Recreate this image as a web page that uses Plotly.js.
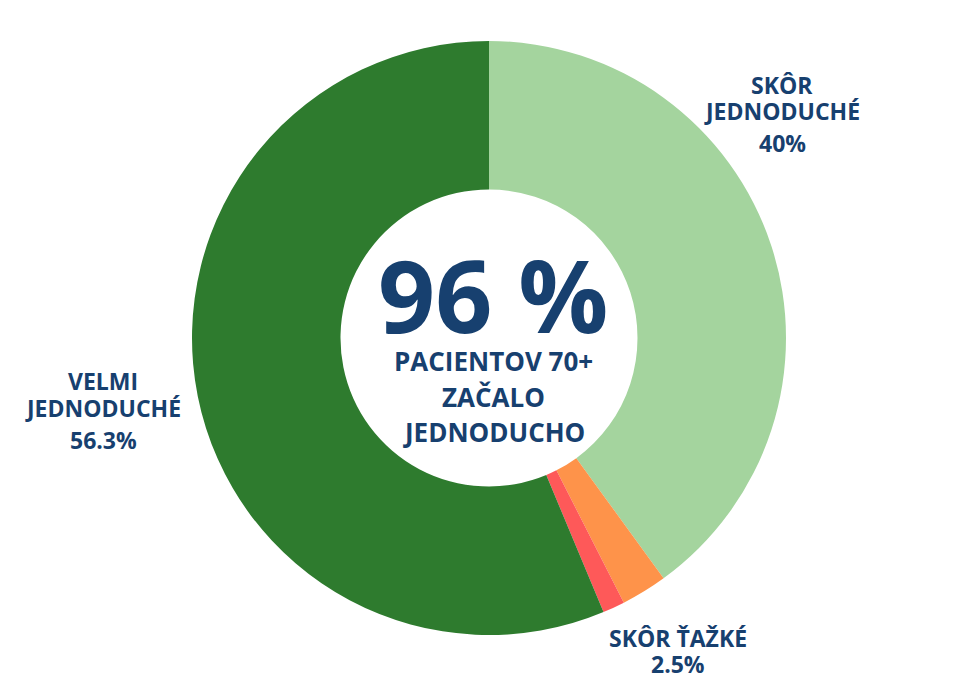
<!DOCTYPE html>
<html><head><meta charset="utf-8">
<script src="https://cdn.plot.ly/plotly-3.0.1.min.js"></script>
<style>html,body{margin:0;padding:0;background:#fff}#c{width:960px;height:687px}</style>
</head><body><div id="c"></div>
<script>
const categories = ["SKÔR JEDNODUCHÉ", "SKÔR ŤAŽKÉ", "VELMI ŤAŽKÉ", "VELMI JEDNODUCHÉ"];
const labelLines = [["SKÔR", "JEDNODUCHÉ"], ["SKÔR ŤAŽKÉ"], [], ["VELMI", "JEDNODUCHÉ"]];
const values = [40, 2.5, 1.2, 56.3];
const colors = ["#a4d49e", "#fe934a", "#fe5959", "#2e7b2e"];
const centerBig = "96 %";
const centerLines = ["PACIENTOV 70+", "ZAČALO", "JEDNODUCHO"];

const txtColor = "#17406f";
const font = "Open Sans, sans-serif";

// label positions (pixels): x centre, y of each name line, y of percentage
const labelPos = [
  {x: 782, ys: [85, 111], yVal: 143},
  {x: 678, ys: [638], yVal: 664},
  null,
  {x: 103, ys: [381, 408], yVal: 440}
];
const W = 960, H = 687;
const annotations = [];
const mk = (x, y, t, size) => ({x: x / W, y: 1 - y / H, xref: "paper", yref: "paper",
  text: "<b>" + t + "</b>", showarrow: false, xanchor: "center", yanchor: "middle",
  font: {family: font, size: size, color: txtColor}});
categories.forEach((c, i) => {
  const p = labelPos[i];
  if (!p) return;
  labelLines[i].forEach((ln, j) => annotations.push(mk(p.x, p.ys[j], ln, 23)));
  annotations.push(mk(p.x, p.yVal, values[i] + "%", 23));
});
annotations.push(mk(493, 294, centerBig, 100));
const lineY = [361, 397, 432];
centerLines.forEach((t, i) => annotations.push(mk(494, lineY[i], t, 26)));

Plotly.newPlot("c", [{
  type: "pie",
  labels: categories,
  values: values,
  marker: {colors: colors, line: {width: 0}},
  hole: 0.5,
  sort: false,
  direction: "clockwise",
  rotation: 0,
  textinfo: "none",
  hoverinfo: "label+percent",
  domain: {x: [192/960, 786/960], y: [1-635/687, 1-41/687]}
}], {
  width: 960, height: 687,
  margin: {l: 0, r: 0, t: 0, b: 0},
  paper_bgcolor: "#fff",
  showlegend: false,
  annotations: annotations
}, {displayModeBar: false});
</script>
</body></html>
